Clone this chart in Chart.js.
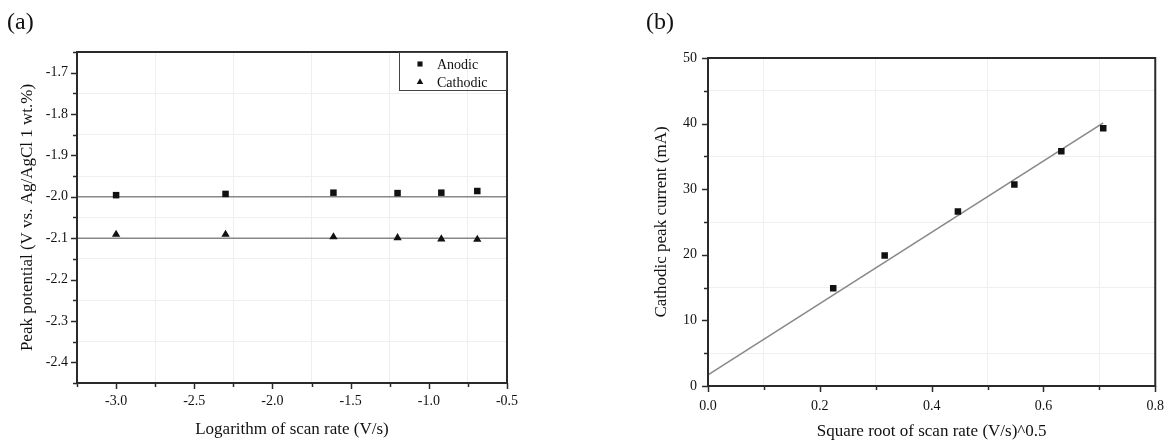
<!DOCTYPE html>
<html><head><meta charset="utf-8">
<script src="https://cdn.jsdelivr.net/npm/chart.js@4/dist/chart.umd.min.js"></script>
<style>
html,body{margin:0;padding:0;background:#fff;}
#wrap{position:relative;width:1176px;height:442px;background:#fff;overflow:hidden;}
.panel{position:absolute;font-family:"Liberation Serif","Times New Roman",serif;font-size:24px;color:#111;line-height:1;}
#ca{position:absolute;left:0;top:0;width:560px;height:442px;}
#cb{position:absolute;left:580px;top:0;width:596px;height:442px;}
</style></head><body>
<div id="wrap">
<canvas id="ca" width="560" height="442"></canvas>
<canvas id="cb" width="596" height="442"></canvas>
<div class="panel" style="left:7px;top:9px;">(a)</div>
<div class="panel" style="left:646px;top:9px;">(b)</div>
</div>
<script>
// ---- data (a) ----
const logScanRate = [-3.00, -2.30, -1.61, -1.20, -0.92, -0.69];
const anodicPotential = [-1.996, -1.993, -1.990, -1.991, -1.990, -1.986];
const cathodicPotential = [-2.091, -2.091, -2.097, -2.099, -2.102, -2.103];
const fitLineX = [-3.25, -0.5];
const anodicFitY = [-2.0, -2.0];
const cathodicFitY = [-2.1, -2.1];
// ---- data (b) ----
const sqrtScanRate = [0.224, 0.316, 0.447, 0.548, 0.632, 0.707];
const cathodicCurrent = [14.9, 19.9, 26.6, 30.7, 35.8, 39.3];
const currentFitX = [0, 0.707];
const currentFitY = [1.7, 40.1];
// ---- ticks ----
const aXTicks = [-3.25,-3.0,-2.75,-2.5,-2.25,-2.0,-1.75,-1.5,-1.25,-1.0,-0.75,-0.5];
const aXMajor = [-3.0,-2.5,-2.0,-1.5,-1.0,-0.5];
const aYTicks = [-2.45,-2.4,-2.35,-2.3,-2.25,-2.2,-2.15,-2.1,-2.05,-2.0,-1.95,-1.9,-1.85,-1.8,-1.75,-1.7,-1.65];
const aYMajor = [-2.4,-2.3,-2.2,-2.1,-2.0,-1.9,-1.8,-1.7];
const bXTicks = [0,0.1,0.2,0.3,0.4,0.5,0.6,0.7,0.8];
const bXMajor = [0,0.2,0.4,0.6,0.8];
const bYTicks = [0,5,10,15,20,25,30,35,40,45,50];
const bYMajor = [0,10,20,30,40,50];

const FONT = '"Liberation Serif","Times New Roman",serif';
const TXT = '#111';
Chart.defaults.font.family = FONT;
Chart.defaults.color = TXT;

function isIn(arr, v){ return arr.some(a => Math.abs(a - v) < 1e-9); }
function pts(xs, ys){ return xs.map((x,i) => ({x:x, y:ys[i]})); }

function drawMarker(ctx, style, x, y, r){
  ctx.beginPath();
  if (style === 'triangle') {
    const w = r * Math.sin(Math.PI/3);
    ctx.moveTo(x, y - r);
    ctx.lineTo(x + w, y + r/2);
    ctx.lineTo(x - w, y + r/2);
    ctx.closePath();
  } else {
    const s = r * Math.SQRT1_2;
    ctx.rect(x - s, y - s, 2*s, 2*s);
  }
  ctx.fill();
}

const framePlugin = {
  id: 'frame',
  afterDraw(chart, args, opts){
    const {ctx, chartArea} = chart;
    const {left, top, right, bottom} = chartArea;
    const x = chart.scales.x, y = chart.scales.y;
    ctx.save();
    ctx.strokeStyle = '#2a2a2a';
    ctx.lineWidth = 1.5;
    x.ticks.forEach(t => {
      const px = Math.round(x.getPixelForValue(t.value)) + 0.5;
      const len = isIn(opts.xMajor, t.value) ? 6 : 4;
      ctx.beginPath(); ctx.moveTo(px, bottom); ctx.lineTo(px, bottom + len); ctx.stroke();
    });
    y.ticks.forEach(t => {
      const py = Math.round(y.getPixelForValue(t.value)) + 0.5;
      const len = isIn(opts.yMajor, t.value) ? 6 : 4;
      ctx.beginPath(); ctx.moveTo(left, py); ctx.lineTo(left - len, py); ctx.stroke();
    });
    ctx.lineWidth = 2;
    ctx.strokeRect(left, top, right - left, bottom - top);
    ctx.restore();
  }
};

const boxLegendPlugin = {
  id: 'boxLegend',
  afterDraw(chart, args, opts){
    if (!opts || !opts.show) return;
    const {ctx, chartArea} = chart;
    const items = chart.data.datasets.filter(d => d.inLegend);
    const w = 107, h = 38;
    const x0 = chartArea.right - w - 1, y0 = chartArea.top;
    ctx.save();
    ctx.strokeStyle = '#444'; ctx.lineWidth = 1;
    ctx.strokeRect(x0 + 0.5, y0 + 0.5, w, h);
    ctx.font = '14px ' + FONT;
    ctx.textBaseline = 'middle';
    items.forEach((d, i) => {
      const cy = y0 + 12 + i * 18;
      ctx.fillStyle = '#111';
      drawMarker(ctx, d.pointStyle, x0 + 21, cy, d.pointStyle === 'triangle' ? 3.8 : 3.6);
      ctx.fillStyle = TXT;
      ctx.fillText(d.label, x0 + 38, cy + 1);
    });
    ctx.restore();
  }
};

function axis(opts){
  return {
    type: 'linear',
    min: opts.min, max: opts.max,
    afterBuildTicks: (s) => { s.ticks = opts.ticks.map(v => ({value: v})); },
    afterFit: (s) => { if (opts.w !== undefined) s.width = opts.w; if (opts.h !== undefined) s.height = opts.h; },
    grid: {
      drawTicks: false,
      color: (c) => (c.tick && !isIn(opts.major, c.tick.value)) ? '#efefef' : 'rgba(0,0,0,0)',
      lineWidth: 1
    },
    border: {display: false},
    ticks: {
      autoSkip: false,
      maxRotation: 0,
      padding: opts.pad,
      font: {size: 14},
      color: TXT,
      callback: (v) => isIn(opts.major, v) ? opts.fmt(v) : ''
    },
    title: {
      display: true,
      text: opts.title,
      font: {size: 17},
      color: TXT,
      padding: opts.titlePad
    }
  };
}

new Chart(document.getElementById('ca'), {
  type: 'scatter',
  data: {
    datasets: [
      {label: 'Anodic', inLegend: true, data: pts(logScanRate, anodicPotential), pointStyle: 'rect', pointRadius: 4.6, pointHoverRadius: 4.6, backgroundColor: '#111', borderWidth: 0, order: 1},
      {label: 'Cathodic', inLegend: true, data: pts(logScanRate, cathodicPotential), pointStyle: 'triangle', pointRadius: 4.8, pointHoverRadius: 4.8, backgroundColor: '#111', borderWidth: 0, order: 1},
      {label: 'Anodic fit', type: 'line', data: pts(fitLineX, anodicFitY), borderColor: '#888', borderWidth: 1.6, pointRadius: 0, fill: false, order: 2},
      {label: 'Cathodic fit', type: 'line', data: pts(fitLineX, cathodicFitY), borderColor: '#888', borderWidth: 1.6, pointRadius: 0, fill: false, order: 2}
    ]
  },
  options: {
    responsive: false, animation: false,
    layout: {padding: {left: 0, right: 53, top: 52, bottom: 0}},
    plugins: {legend: {display: false}, tooltip: {enabled: false},
      frame: {xMajor: aXMajor, yMajor: aYMajor}, boxLegend: {show: true}},
    scales: {
      x: axis({min: -3.25, max: -0.5, ticks: aXTicks, major: aXMajor, fmt: v => v.toFixed(1), pad: 10, h: 59,
               title: 'Logarithm of scan rate (V/s)', titlePad: {top: 0, bottom: 2}}),
      y: axis({min: -2.45, max: -1.65, ticks: aYTicks, major: aYMajor, fmt: v => v.toFixed(1), pad: 9, w: 77,
               title: 'Peak potential (V vs. Ag/AgCl 1 wt.%)', titlePad: {top: 17, bottom: 0}})
    }
  },
  plugins: [framePlugin, boxLegendPlugin]
});

new Chart(document.getElementById('cb'), {
  type: 'scatter',
  data: {
    datasets: [
      {label: 'Cathodic peak current', data: pts(sqrtScanRate, cathodicCurrent), pointStyle: 'rect', pointRadius: 4.6, pointHoverRadius: 4.6, backgroundColor: '#111', borderWidth: 0, order: 1},
      {label: 'Linear fit', type: 'line', data: pts(currentFitX, currentFitY), borderColor: '#888', borderWidth: 1.6, pointRadius: 0, fill: false, order: 2}
    ]
  },
  options: {
    responsive: false, animation: false,
    layout: {padding: {left: 0, right: 19, top: 58, bottom: 0}},
    plugins: {legend: {display: false}, tooltip: {enabled: false},
      frame: {xMajor: bXMajor, yMajor: bYMajor}, boxLegend: {show: false}},
    scales: {
      x: axis({min: 0, max: 0.8, ticks: bXTicks, major: bXMajor, fmt: v => v.toFixed(1), pad: 12, h: 56,
               title: 'Square root of scan rate (V/s)^0.5', titlePad: {top: 0, bottom: 0}}),
      y: axis({min: 0, max: 50, ticks: bYTicks, major: bYMajor, fmt: v => String(Math.round(v)), pad: 11, w: 128,
               title: 'Cathodic peak current (mA)', titlePad: {top: 71, bottom: 0}})
    }
  },
  plugins: [framePlugin, boxLegendPlugin]
});
</script>
</body></html>
